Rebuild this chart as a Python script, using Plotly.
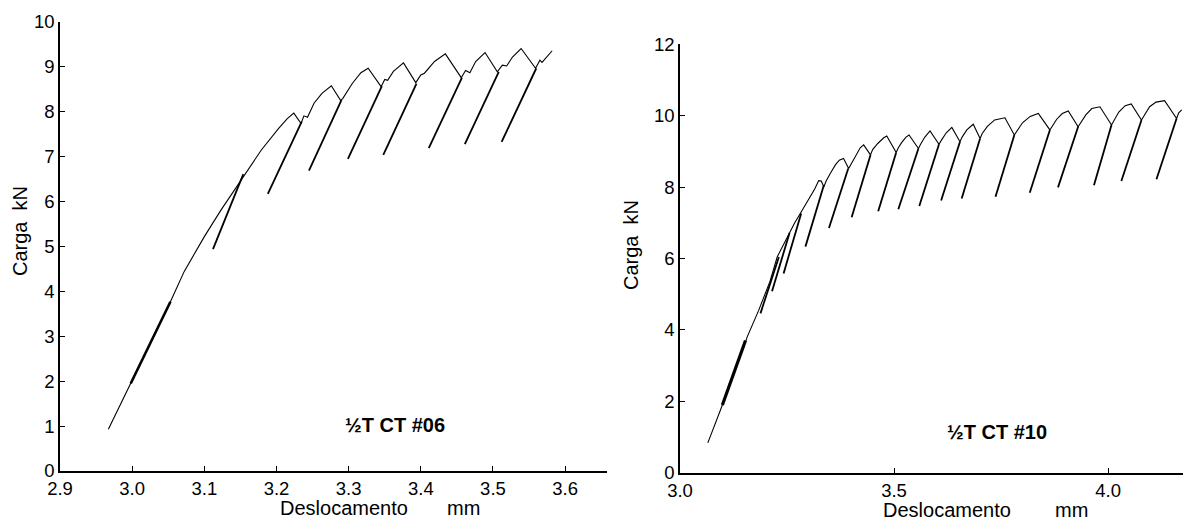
import plotly.graph_objects as go

# ---------------- Data: specimen 1/2T CT #06 ----------------
env06_x = [2.967, 2.998, 3.025, 3.053, 3.072, 3.100, 3.123, 3.154, 3.179, 3.203, 3.215, 3.224,
           3.234, 3.238, 3.243, 3.252, 3.263, 3.276, 3.289, 3.292, 3.305, 3.317, 3.327,
           3.345, 3.350, 3.354, 3.362, 3.376, 3.393, 3.400, 3.405, 3.419, 3.434,
           3.456, 3.462, 3.468, 3.476, 3.489, 3.506, 3.513, 3.519, 3.527, 3.539,
           3.559, 3.565, 3.568, 3.582]
env06_y = [0.93, 1.95, 2.85, 3.77, 4.44, 5.22, 5.81, 6.55, 7.15, 7.63, 7.85, 7.97,
           7.74, 7.91, 7.88, 8.19, 8.41, 8.58, 8.25, 8.30, 8.63, 8.87, 8.97,
           8.56, 8.72, 8.70, 8.90, 9.09, 8.65, 8.82, 8.86, 9.12, 9.29,
           8.76, 8.92, 8.87, 9.12, 9.32, 8.89, 9.04, 9.02, 9.22, 9.41,
           8.97, 9.15, 9.10, 9.36]
unl06_top_x = [3.154, 3.235, 3.290, 3.346, 3.394, 3.457, 3.508, 3.560]
unl06_top_y = [6.61, 7.78, 8.26, 8.57, 8.63, 8.76, 8.89, 8.97]
unl06_bot_x = [3.112, 3.188, 3.245, 3.299, 3.348, 3.411, 3.461, 3.512]
unl06_bot_y = [4.94, 6.17, 6.69, 6.95, 7.04, 7.19, 7.28, 7.33]
early06_x = [2.998, 3.053]
early06_y = [1.95, 3.77]

# ---------------- Data: specimen 1/2T CT #10 ----------------
env10_x = [3.065, 3.099, 3.153, 3.157, 3.184, 3.196, 3.210, 3.227, 3.240, 3.254, 3.268, 3.281,
           3.293, 3.305, 3.315, 3.324, 3.330, 3.336, 3.342, 3.351, 3.363, 3.372, 3.382,
           3.394, 3.402, 3.413, 3.421, 3.429, 3.445, 3.450, 3.462, 3.476, 3.483,
           3.505, 3.510, 3.518, 3.528, 3.535, 3.557, 3.562, 3.572, 3.584,
           3.605, 3.610, 3.622, 3.635, 3.654, 3.659, 3.670, 3.685,
           3.701, 3.706, 3.718, 3.735, 3.759, 3.781, 3.786, 3.800, 3.818, 3.837,
           3.864, 3.869, 3.880, 3.893, 3.907, 3.930, 3.935, 3.948, 3.962, 3.981,
           4.008, 4.013, 4.025, 4.040, 4.054, 4.078, 4.083, 4.097, 4.112, 4.132,
           4.160, 4.165, 4.172]
env10_y = [0.83, 1.89, 3.66, 3.80, 4.55, 4.92, 5.35, 6.04, 6.35, 6.70, 7.00, 7.26,
           7.49, 7.73, 7.95, 8.18, 8.17, 8.01, 8.18, 8.38, 8.62, 8.75, 8.80,
           8.52, 8.68, 8.94, 9.10, 9.18, 8.90, 9.05, 9.22, 9.38, 9.43,
           8.97, 9.10, 9.25, 9.40, 9.46, 9.08, 9.20, 9.40, 9.57,
           9.20, 9.30, 9.52, 9.67, 9.27, 9.40, 9.60, 9.76,
           9.36, 9.50, 9.70, 9.88, 9.94, 9.46, 9.55, 9.80, 9.98, 10.06,
           9.60, 9.70, 9.90, 10.06, 10.13, 9.69, 9.78, 10.02, 10.20, 10.25,
           9.74, 9.85, 10.10, 10.28, 10.33, 9.88, 9.98, 10.25, 10.38, 10.42,
           9.92, 10.08, 10.16]
unl10_top_x = [3.231, 3.256, 3.283, 3.336, 3.393, 3.445, 3.505, 3.557, 3.605, 3.654,
               3.701, 3.781, 3.864, 3.930, 4.008, 4.078, 4.160]
unl10_top_y = [6.04, 6.72, 7.26, 8.05, 8.52, 8.90, 8.97, 9.08, 9.20, 9.27,
               9.36, 9.46, 9.60, 9.69, 9.74, 9.88, 9.92]
unl10_bot_x = [3.188, 3.215, 3.242, 3.293, 3.348, 3.401, 3.463, 3.510, 3.559, 3.610,
               3.658, 3.737, 3.817, 3.883, 3.967, 4.031, 4.113]
unl10_bot_y = [4.46, 5.08, 5.58, 6.33, 6.85, 7.15, 7.32, 7.38, 7.47, 7.62,
               7.68, 7.73, 7.84, 7.99, 8.05, 8.17, 8.22]
early10_x = [3.099, 3.153]
early10_y = [1.89, 3.70]

xt06 = [2.9, 3.0, 3.1, 3.2, 3.3, 3.4, 3.5, 3.6]
xt06_lab = ["2.9", "3.0", "3.1", "3.2", "3.3", "3.4", "3.5", "3.6"]
yt06 = list(range(0, 11))
xt10 = [3.0, 3.5, 4.0]
xt10_lab = ["3.0", "3.5", "4.0"]
yt10 = [0, 2, 4, 6, 8, 10, 12]


def segments(tx, ty, bx, by):
    xs, ys = [], []
    for a, b, c, d in zip(tx, ty, bx, by):
        xs += [a, c, None]
        ys += [b, d, None]
    return xs, ys


# The page body has an 8 px margin, so the figure is drawn 8 px in from the window corner.
OFF = 8
W, H = 1194 - OFF, 520 - OFF
FONT = "Arial, Liberation Sans, sans-serif"


def px2x(px):
    return (px - OFF) / W


def px2y(py):
    return 1 - (py - OFF) / H


fig = go.Figure()

line_env = dict(color="black", width=1.1)
line_unl = dict(color="black", width=1.8)
line_early = dict(color="black", width=2.6)

# left chart
fig.add_trace(go.Scatter(x=env06_x, y=env06_y, mode="lines", line=line_env, xaxis="x", yaxis="y"))
ux, uy = segments(unl06_top_x, unl06_top_y, unl06_bot_x, unl06_bot_y)
fig.add_trace(go.Scatter(x=ux, y=uy, mode="lines", line=line_unl, xaxis="x", yaxis="y", connectgaps=False))
fig.add_trace(go.Scatter(x=early06_x, y=early06_y, mode="lines", line=line_early, xaxis="x", yaxis="y"))

# right chart
fig.add_trace(go.Scatter(x=env10_x, y=env10_y, mode="lines", line=line_env, xaxis="x2", yaxis="y2"))
ux, uy = segments(unl10_top_x, unl10_top_y, unl10_bot_x, unl10_bot_y)
fig.add_trace(go.Scatter(x=ux, y=uy, mode="lines", line=line_unl, xaxis="x2", yaxis="y2", connectgaps=False))
fig.add_trace(go.Scatter(x=early10_x, y=early10_y, mode="lines", line=dict(color="black", width=3.2),
                         xaxis="x2", yaxis="y2"))

axis_common = dict(showgrid=False, zeroline=False, showline=True, linecolor="black", linewidth=1.6,
                   ticks="inside", ticklen=5, tickwidth=1.3, tickcolor="black", automargin=False,
                   tickfont=dict(family=FONT, size=18.5, color="black"))

fig.update_layout(
    width=W, height=H,
    margin=dict(l=0, r=0, t=0, b=0, autoexpand=False),
    paper_bgcolor="white", plot_bgcolor="white",
    showlegend=False,
    xaxis=dict(domain=[px2x(60), px2x(607)], range=[2.9, 3.658], anchor="y",
               tickvals=xt06, ticktext=xt06_lab, **axis_common),
    yaxis=dict(domain=[px2y(471), px2y(22)], range=[0, 10], anchor="x",
               tickvals=yt06, **axis_common),
    xaxis2=dict(domain=[px2x(680), px2x(1183)], range=[3.0, 4.175], anchor="y2",
                tickvals=xt10, ticktext=xt10_lab, **axis_common),
    yaxis2=dict(domain=[px2y(472.5), px2y(44.3)], range=[0, 12], anchor="x2",
                tickvals=yt10, **axis_common),
)


def ann(text, px, py, size, bold=False, angle=0, xanchor="center"):
    fig.add_annotation(text=("<b>%s</b>" % text) if bold else text,
                       x=px2x(px), y=px2y(py), xref="paper", yref="paper",
                       showarrow=False, textangle=angle, xanchor=xanchor, yanchor="middle",
                       font=dict(family=FONT, size=size, color="black"))


# axis titles
ann("Deslocamento", 278, 508, 20, xanchor="left")
ann("mm", 445, 508, 20, xanchor="left")
ann("Deslocamento", 881, 510, 20, xanchor="left")
ann("mm", 1053, 510, 20, xanchor="left")
ann("Carga\u00a0\u00a0kN", 20, 231, 20, angle=-90)
ann("Carga\u00a0\u00a0kN", 631, 245, 20, angle=-90)

# specimen labels
ann("½T CT #06", 395, 425, 20, bold=True)
ann("½T CT #10", 997, 432, 20, bold=True)

fig.write_html("out.html")
